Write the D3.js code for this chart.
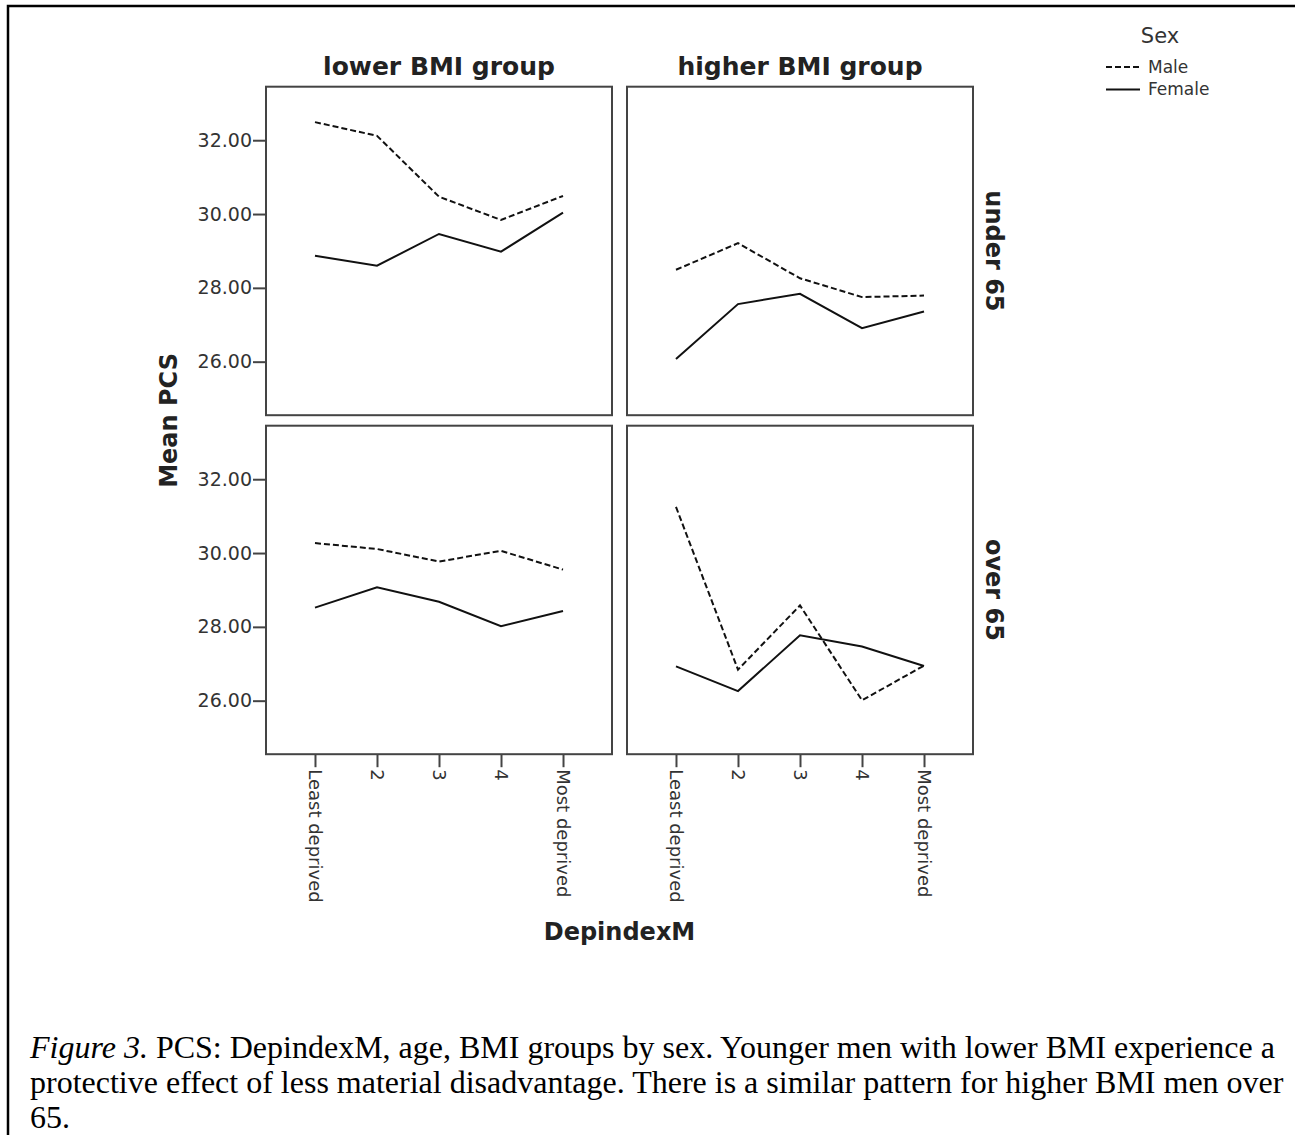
<!DOCTYPE html>
<html>
<head>
<meta charset="utf-8">
<script src="https://cdn.jsdelivr.net/npm/d3@7"></script>
<style>
body { margin: 0; background: #fff; }
</style>
</head>
<body>
<script>
const w = 1295
const h = 1135

const categories = ["Least deprived", "2", "3", "4", "Most deprived"]
const columns = ["lower BMI group", "higher BMI group"]
const rows = ["under 65", "over 65"]
const sexes = ["Male", "Female"]
const yTicks = [26, 28, 30, 32]

const maleLowerUnder = [32.49, 32.12, 30.47, 29.84, 30.49]
const femaleLowerUnder = [28.87, 28.60, 29.46, 28.98, 30.04]
const maleHigherUnder = [28.49, 29.21, 28.26, 27.75, 27.79]
const femaleHigherUnder = [26.07, 27.56, 27.84, 26.91, 27.36]
const maleLowerOver = [30.27, 30.11, 29.77, 30.06, 29.55]
const femaleLowerOver = [28.52, 29.07, 28.68, 28.02, 28.43]
const maleHigherOver = [31.25, 26.84, 28.58, 26.01, 26.95]
const femaleHigherOver = [26.93, 26.26, 27.77, 27.47, 26.94]

const captionLines = [
	"PCS: DepindexM, age, BMI groups by sex. Younger men with lower BMI experience a",
	"protective effect of less material disadvantage. There is a similar pattern for higher BMI men over",
	"65."
]

const panels = [
	{row: 0, col: 0, male: maleLowerUnder, female: femaleLowerUnder},
	{row: 0, col: 1, male: maleHigherUnder, female: femaleHigherUnder},
	{row: 1, col: 0, male: maleLowerOver, female: femaleLowerOver},
	{row: 1, col: 1, male: maleHigherOver, female: femaleHigherOver}
]

const font = "'DejaVu Sans', sans-serif"
const colX = [266, 627]
const rowY = [86.7, 425.7]
const pw = 346
const ph = 328.5
const dash = {Male: "6,3", Female: null}

const svg = d3.select("body").append("svg")
	.attr("width", w).attr("height", h)

// frame
svg.append("path")
	.attr("d", `M8,${h} L8,6 L${w},6`)
	.attr("fill", "none").attr("stroke", "#000").attr("stroke-width", 2.5)

const x = d3.scalePoint().domain(categories).range([0, pw]).padding(0.79)
const y = d3.scaleLinear().domain([24.55, 33.45]).range([ph, 0])

const line = d3.line()
	.x((d, i) => x(categories[i]))
	.y(d => y(d))

panels.forEach(p => {
	const g = svg.append("g")
		.attr("transform", `translate(${colX[p.col]},${rowY[p.row]})`)

	if (p.col == 0) {
		const ay = g.append("g")
			.call(d3.axisLeft(y).tickValues(yTicks).tickFormat(d3.format(".2f")).tickSize(13))
		ay.select(".domain").remove()
		ay.selectAll("line").attr("stroke", "#444").attr("stroke-width", 2)
		ay.selectAll("text")
			.attr("x", -14)
			.attr("font-family", font).attr("font-size", "19px").attr("fill", "#333")
	}
	if (p.row == 1) {
		const ax = g.append("g")
			.attr("transform", `translate(0,${ph})`)
			.call(d3.axisBottom(x).tickSize(13))
		ax.select(".domain").remove()
		ax.selectAll("line").attr("stroke", "#444").attr("stroke-width", 2)
		ax.selectAll("text")
			.attr("transform", "rotate(90)")
			.attr("x", 15).attr("y", 0).attr("dy", "0.35em")
			.attr("text-anchor", "start")
			.attr("font-family", font).attr("font-size", "18px").attr("fill", "#333")
	}

	sexes.forEach(s => {
		g.append("path")
			.attr("d", line(s == "Male" ? p.male : p.female))
			.attr("fill", "none")
			.attr("stroke", "#111")
			.attr("stroke-width", 2)
			.attr("stroke-dasharray", dash[s])
	})

	g.append("rect")
		.attr("width", pw).attr("height", ph)
		.attr("fill", "none").attr("stroke", "#444").attr("stroke-width", 2)
})

svg.selectAll(".coltitle")
	.data(columns)
	.enter()
	.append("text")
	.text(d => d)
		.attr("x", (d, i) => colX[i] + pw / 2)
		.attr("y", 75)
		.attr("text-anchor", "middle")
		.attr("font-family", font).attr("font-size", "25px").attr("font-weight", "bold")
		.attr("fill", "#222")

svg.selectAll(".rowtitle")
	.data(rows)
	.enter()
	.append("text")
	.text(d => d)
		.attr("transform", (d, i) => `translate(986,${rowY[i] + ph / 2}) rotate(90)`)
		.attr("text-anchor", "middle")
		.attr("font-family", font).attr("font-size", "24px").attr("font-weight", "bold")
		.attr("fill", "#222")

svg.append("text")
	.text("Mean PCS")
	.attr("transform", `translate(177,${(rowY[0] + rowY[1] + ph) / 2}) rotate(-90)`)
	.attr("text-anchor", "middle")
	.attr("font-family", font).attr("font-size", "24px").attr("font-weight", "bold")
	.attr("fill", "#222")

svg.append("text")
	.text("DepindexM")
	.attr("x", (colX[0] + colX[1] + pw) / 2)
	.attr("y", 940)
	.attr("text-anchor", "middle")
	.attr("font-family", font).attr("font-size", "24px").attr("font-weight", "bold")
	.attr("fill", "#222")

// legend
const legend = svg.append("g").attr("transform", "translate(1106,0)")
legend.append("text")
	.text("Sex")
	.attr("x", 54).attr("y", 43)
	.attr("text-anchor", "middle")
	.attr("font-family", font).attr("font-size", "21px").attr("fill", "#333")

const items = legend.selectAll(".item")
	.data(sexes)
	.enter()
	.append("g")
	.attr("transform", (d, i) => `translate(0,${67 + i * 22.5})`)
items.append("line")
	.attr("x1", 0).attr("x2", 34)
	.attr("stroke", "#111").attr("stroke-width", 2)
	.attr("stroke-dasharray", d => dash[d])
items.append("text")
	.text(d => d)
	.attr("x", 42).attr("dy", "0.35em")
	.attr("font-family", font).attr("font-size", "17px").attr("fill", "#333")

// caption
const cap = svg.append("g")
	.attr("font-family", "'Liberation Serif', 'Times New Roman', serif")
	.attr("font-size", "32px")
	.attr("fill", "#000")
captionLines.forEach((t, i) => {
	const tx = cap.append("text").attr("x", 30).attr("y", 1058 + i * 35)
	if (i == 0) {
		tx.append("tspan").attr("font-style", "italic").text("Figure 3.")
		tx.append("tspan").text(" " + t)
	} else {
		tx.text(t)
	}
})
</script>
</body>
</html>
